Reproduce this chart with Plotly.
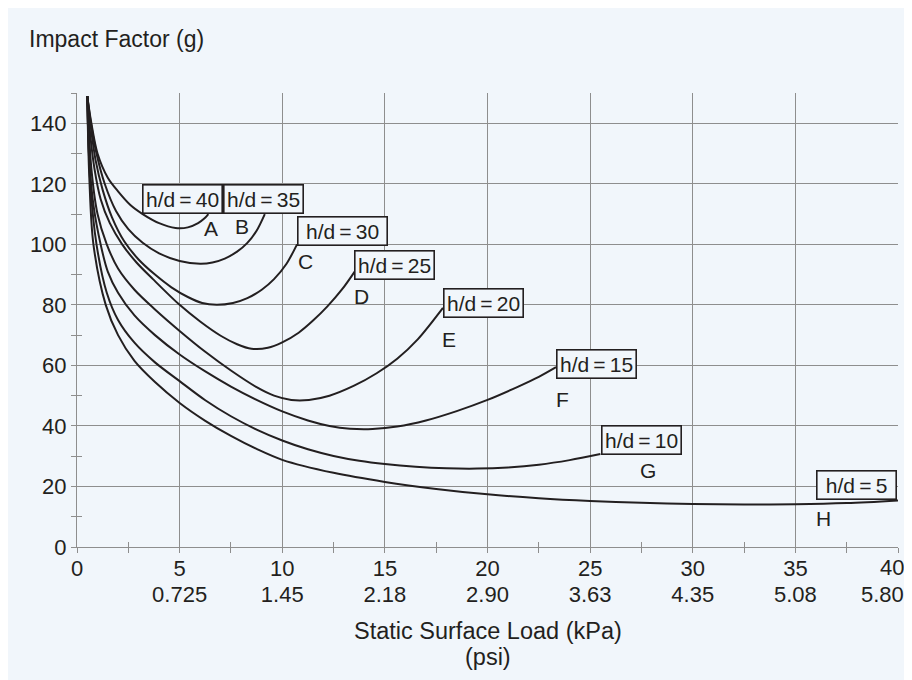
import plotly.graph_objects as go

# ---------------- data ----------------
kpa_ticks = [0, 5, 10, 15, 20, 25, 30, 35, 40]
psi_ticks = [5, 10, 15, 20, 25, 30, 35]
psi_labels = ["0.725", "1.45", "2.18", "2.90", "3.63", "4.35", "5.08", "5.80"]
y_ticks = [0, 20, 40, 60, 80, 100, 120, 140]
x_minor = [2.5, 7.5, 12.5, 17.5, 22.5, 27.5, 32.5, 37.5]
y_minor = [10, 30, 50, 70, 90, 110, 130]

series_names = ["h/d=40", "h/d=35", "h/d=30", "h/d=25",
                "h/d=20", "h/d=15", "h/d=10", "h/d=5"]
curve_letters = ["A", "B", "C", "D", "E", "F", "G", "H"]

a_x = [0.5, 0.7, 1.0, 1.5, 2.0, 2.6, 3.2, 4.0, 4.8, 5.4, 5.9, 6.2, 6.4]
a_y = [149, 140, 130, 122, 117.5, 113, 110, 107, 105.4, 105.6, 107, 108.5, 110]

b_x = [0.5, 0.68, 0.95, 1.35, 1.9, 2.5, 3.2, 4.0, 5.0, 6.0, 6.6, 7.2, 7.8, 8.3, 8.75, 9.15]
b_y = [149, 140, 130, 120, 111, 105, 100.5, 97, 94.5, 93.6, 94, 95.3, 97.6, 100.5, 104.5, 110]

c_x = [0.5, 0.65, 0.9, 1.25, 1.7, 2.3, 3.0, 3.8, 4.6, 5.4, 6.1, 6.8, 7.6, 8.3, 9.0, 9.6, 10.2, 10.72]
c_y = [149, 140, 128, 118, 109, 101, 95, 90, 85.8, 82.6, 80.6, 80, 80.6, 82.2, 85, 88.5, 93.5, 100]

d_x = [0.5, 0.62, 0.85, 1.15, 1.6, 2.2, 2.9, 3.7, 5.0, 6.0, 7.0, 7.8, 8.5, 9.3, 10.0, 10.8, 11.5, 12.2, 12.9, 13.53]
d_y = [149, 138, 125, 115, 107, 100, 94, 88.5, 80, 74.5, 69.8, 67.0, 65.5, 65.8, 67.6, 70.8, 74.8, 79.5, 85, 91]

e_x = [0.5, 0.7, 1.0, 1.45, 2.0, 2.8, 3.8, 5.0, 6.25, 7.5, 8.75, 9.6, 10.44, 11.3, 12.3, 13.5, 14.6, 15.6, 16.6, 17.83]
e_y = [149, 125, 110, 100, 92, 85, 78.5, 71.4, 64.5, 58.3, 52.8, 50.0, 48.6, 48.6, 50.0, 53.3, 57.4, 62.2, 68.6, 79]

f_x = [0.5, 0.6, 0.8, 1.15, 1.5, 2.0, 2.8, 3.8, 5.0, 6.25, 7.5, 8.75, 10.0, 11.25, 12.3, 13.3,
       14.4, 15.6, 17.0, 18.5, 20.0, 21.5, 22.5, 23.34]
f_y = [149, 128, 113, 100, 91, 84, 76.5, 70, 63.6, 58, 53, 48.6, 44.8, 41.8, 40.0, 39.1,
       39.0, 39.8, 41.8, 44.9, 48.6, 53, 56.2, 59.4]

g_x = [0.5, 0.65, 0.95, 1.45, 2.0, 2.8, 3.8, 5.0, 6.25, 7.5, 8.75, 10.0, 11.25, 12.5, 13.75,
       15.0, 16.5, 18.0, 19.5, 21.0, 22.5, 24.0, 25.5]
g_y = [149, 120, 100, 84, 75, 67.5, 61, 54.8, 48.5, 43.2, 38.8, 35.2, 32.3, 30.1, 28.5,
       27.4, 26.5, 26.0, 25.9, 26.3, 27.2, 28.7, 30.7]

h_x = [0.5, 0.6, 0.8, 1.4, 2.0, 2.8, 3.8, 5.0, 6.25, 7.5, 8.75, 10.0, 12.5, 15.0, 17.5, 20.0,
       22.5, 25.0, 27.5, 30.0, 32.5, 35.0, 37.5, 40.0]
h_y = [149, 122, 100, 80, 70, 61.5, 54.5, 47.6, 41.7, 36.7, 32.4, 28.8, 24.5, 21.5, 19.2, 17.4,
       16.1, 15.2, 14.6, 14.2, 14.05, 14.1, 14.5, 15.4]

curves_x = [a_x, b_x, c_x, d_x, e_x, f_x, g_x, h_x]
curves_y = [a_y, b_y, c_y, d_y, e_y, f_y, g_y, h_y]

# label placement (layout, not data)
box_pos = [(5.15, 115.0), (9.1, 115.0), (12.95, 104.4), (15.48, 93.2),
           (19.8, 80.5), (25.33, 60.3), (27.5, 35.3), (38.0, 20.5)]
box_w = [76, 76, 86, 76, 76, 76, 76, 76]
letter_pos = [(6.55, 105.3), (8.06, 105.8), (11.14, 94.3), (13.85, 82.9),
              (18.12, 68.6), (23.67, 48.8), (27.8, 25.2), (36.35, 9.3)]

# ---------------- style ----------------
BG = "#f1f6fb"
INK = "#231f20"
GRID = "#8e8e8e"
FONT = "Liberation Sans, Arial, sans-serif"
PW, PH = 821, 454  # plot area size in px
X0, Y0 = 77, 547   # plot origin in page px (for placing titles)

fig = go.Figure()
for name, xs, ys in zip(series_names, curves_x, curves_y):
    fig.add_trace(go.Scatter(x=xs, y=ys, mode="lines", name=name,
                             line=dict(color=INK, width=2, shape="spline", smoothing=0.9),
                             showlegend=False, hoverinfo="skip"))

# empty carrier traces so the helper axes (psi labels, crossing minor ticks) get drawn
fig.add_trace(go.Scatter(x=psi_ticks, y=[None] * len(psi_ticks), xaxis="x3", yaxis="y",
                         mode="lines", showlegend=False, hoverinfo="skip"))
fig.add_trace(go.Scatter(x=x_minor, y=[None] * len(x_minor), xaxis="x2", yaxis="y",
                         mode="lines", showlegend=False, hoverinfo="skip"))
fig.add_trace(go.Scatter(x=[None] * len(y_minor), y=y_minor, xaxis="x", yaxis="y2",
                         mode="lines", showlegend=False, hoverinfo="skip"))

annotations = []
for name, (bx, by), w in zip(series_names, box_pos, box_w):
    annotations.append(dict(x=bx, y=by, xref="x", yref="y",
                            text=name.replace("=", "\u2009=\u2009"),
                            showarrow=False, xanchor="center", yanchor="middle",
                            font=dict(family=FONT, size=21, color=INK),
                            bgcolor=BG, bordercolor=INK, borderwidth=1.6, borderpad=1,
                            width=w, height=25))
for letter, (lx, ly) in zip(curve_letters, letter_pos):
    annotations.append(dict(x=lx, y=ly, xref="x", yref="y", text=letter, showarrow=False,
                            xanchor="center", yanchor="middle",
                            font=dict(family=FONT, size=21, color=INK)))

# last tick labels sit flush against the right edge, as in the source
annotations.append(dict(x=kpa_ticks[-1], y=-(567 - Y0) / PH, xref="x", yref="paper",
                        text=str(kpa_ticks[-1]), showarrow=False, xanchor="right",
                        yanchor="middle", xshift=8, font=dict(family=FONT, size=22, color=INK)))
annotations.append(dict(x=kpa_ticks[-1], y=-(594 - Y0) / PH, xref="x", yref="paper",
                        text=psi_labels[-1], showarrow=False, xanchor="right",
                        yanchor="middle", xshift=8, font=dict(family=FONT, size=22, color=INK)))

annotations.append(dict(x=(27 - X0) / PW, y=1 + (93 - 39) / PH, xref="paper", yref="paper",
                        text="Impact Factor (g)", showarrow=False, xanchor="left", yanchor="middle",
                        font=dict(family=FONT, size=23, color=INK)))
annotations.append(dict(x=(488 - X0) / PW, y=-(631 - Y0) / PH, xref="paper", yref="paper",
                        text="Static Surface Load (kPa)", showarrow=False, xanchor="center",
                        yanchor="middle", font=dict(family=FONT, size=23.5, color=INK)))
annotations.append(dict(x=(488 - X0) / PW, y=-(657 - Y0) / PH, xref="paper", yref="paper",
                        text="(psi)", showarrow=False, xanchor="center",
                        yanchor="middle", font=dict(family=FONT, size=23.5, color=INK)))

x_text = ["" if k == kpa_ticks[-1] else str(k) for k in kpa_ticks]

fig.update_layout(
    template="none",
    width=904, height=672, autosize=False,
    margin=dict(l=69, r=14, t=85, b=133, pad=0),
    paper_bgcolor=BG, plot_bgcolor=BG,
    font=dict(family=FONT, size=22, color=INK),
    annotations=annotations,
    xaxis=dict(range=[0, 40], tickvals=kpa_ticks, ticktext=x_text, showgrid=True, automargin=False,
               gridcolor=GRID, gridwidth=1, zeroline=False, showline=True, linecolor=GRID,
               linewidth=1, ticks="outside", ticklen=5, tickcolor=GRID, tickwidth=1,
               ticklabelstandoff=-3,
               tickfont=dict(family=FONT, size=22, color=INK),
               minor=dict(tickvals=x_minor, ticks="outside", ticklen=5, tickcolor=GRID,
                          tickwidth=1, showgrid=False)),
    yaxis=dict(range=[0, 150], tickvals=y_ticks + [150], ticktext=[str(v) for v in y_ticks] + [""],
               showgrid=True, gridcolor=GRID, gridwidth=1, zeroline=False, showline=True,
               automargin=False,
               linecolor=GRID, linewidth=1, ticks="outside", ticklen=5, tickcolor=GRID, tickwidth=1,
               tickfont=dict(family=FONT, size=22, color=INK),
               minor=dict(tickvals=y_minor, ticks="outside", ticklen=5, tickcolor=GRID,
                          tickwidth=1, showgrid=False)),
    xaxis2=dict(overlaying="x", anchor="y", side="bottom", range=[0, 40], tickvals=x_minor,
                ticks="inside", ticklen=5, tickcolor=GRID, tickwidth=1, showticklabels=False,
                showgrid=False, zeroline=False, showline=False, automargin=False),
    xaxis3=dict(overlaying="x", anchor="y", side="bottom", range=[0, 40], tickvals=psi_ticks,
                ticktext=psi_labels[:-1], ticks="outside", ticklen=5,
                tickcolor="rgba(0,0,0,0)", ticklabelstandoff=23,
                tickfont=dict(family=FONT, size=22, color=INK),
                showgrid=False, zeroline=False, showline=False, automargin=False),
    yaxis2=dict(overlaying="y", anchor="x", side="left", range=[0, 150], tickvals=y_minor,
                ticks="inside", ticklen=5, tickcolor=GRID, tickwidth=1, showticklabels=False,
                showgrid=False, zeroline=False, showline=False, automargin=False),
)

fig.write_html("out.html")
